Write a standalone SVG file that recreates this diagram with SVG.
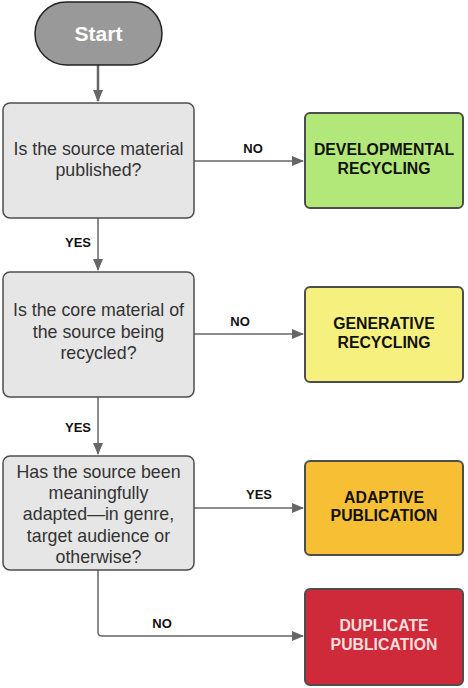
<svg xmlns="http://www.w3.org/2000/svg" width="468" height="688" viewBox="0 0 468 688">
<style>
.q{fill:#e6e6e6;stroke:#4d4d4d;stroke-width:1.5}
.r{stroke:#4d4d4d;stroke-width:2}
.qt{font-family:"Liberation Sans",Arial,sans-serif;font-size:17.8px;fill:#333;text-anchor:middle;dominant-baseline:central}
.rt{font-family:"Liberation Sans",Arial,sans-serif;font-size:15.8px;font-weight:bold;fill:#111;text-anchor:middle;dominant-baseline:central}
.lb{font-family:"Liberation Sans",Arial,sans-serif;font-size:13px;font-weight:bold;fill:#111;text-anchor:middle;dominant-baseline:central}
.c{fill:none;stroke:#666;stroke-width:1.5}
</style>
<defs>
<marker id="ah" markerWidth="12" markerHeight="10" refX="11" refY="5" orient="auto" markerUnits="userSpaceOnUse">
<path d="M0,0 L12,5 L0,10 Z" fill="#666"/>
</marker>
</defs>
<rect width="468" height="688" fill="#fff"/>
<g id="connectors">
<line class="c" x1="98" y1="65" x2="98" y2="101" marker-end="url(#ah)" style="stroke-width:2.5"/>
<line class="c" x1="194" y1="161" x2="303" y2="161" marker-end="url(#ah)"/>
<line class="c" x1="98" y1="218" x2="98" y2="270" marker-end="url(#ah)"/>
<line class="c" x1="194" y1="334" x2="303" y2="334" marker-end="url(#ah)"/>
<line class="c" x1="98" y1="397" x2="98" y2="454" marker-end="url(#ah)"/>
<line class="c" x1="194" y1="508" x2="303" y2="508" marker-end="url(#ah)"/>
<path class="c" d="M98,570 L98,632 Q98,636 102,636 L303,636" marker-end="url(#ah)"/>
<text class="lb" x="253" y="148">NO</text>
<text class="lb" x="78" y="242">YES</text>
<text class="lb" x="240" y="321">NO</text>
<text class="lb" x="78" y="427">YES</text>
<text class="lb" x="259" y="494">YES</text>
<text class="lb" x="162" y="623">NO</text>
</g>
<g id="start">
<rect x="35" y="2" width="127" height="63" rx="31.5" fill="#999" stroke="#222" stroke-width="1.5"/>
<text x="98.5" y="33" font-family="Liberation Sans,Arial,sans-serif" font-size="21" font-weight="bold" fill="#fff" text-anchor="middle" dominant-baseline="central">Start</text>
</g>
<g id="q1">
<rect class="q" x="3" y="103" width="191" height="115" rx="7"/>
<text class="qt" x="98.5" y="149">Is the source material</text>
<text class="qt" x="98.5" y="170">published?</text>
</g>
<g id="developmental">
<rect class="r" x="305" y="113" width="158" height="95" rx="5" fill="#b2e879"/>
<text class="rt" x="384" y="149">DEVELOPMENTAL</text>
<text class="rt" x="384" y="168">RECYCLING</text>
</g>
<g id="q2">
<rect class="q" x="3" y="272" width="191" height="125" rx="7"/>
<text class="qt" x="98.5" y="310">Is the core material of</text>
<text class="qt" x="98.5" y="332">the source being</text>
<text class="qt" x="98.5" y="353">recycled?</text>
</g>
<g id="generative">
<rect class="r" x="305" y="287" width="158" height="95" rx="5" fill="#f6f17f"/>
<text class="rt" x="384" y="323">GENERATIVE</text>
<text class="rt" x="384" y="342">RECYCLING</text>
</g>
<g id="q3">
<rect class="q" x="3" y="456" width="191" height="114" rx="7"/>
<text class="qt" x="98.5" y="472">Has the source been</text>
<text class="qt" x="98.5" y="493">meaningfully</text>
<text class="qt" x="98.5" y="514">adapted—in genre,</text>
<text class="qt" x="98.5" y="536">target audience or</text>
<text class="qt" x="98.5" y="557">otherwise?</text>
</g>
<g id="adaptive">
<rect class="r" x="305" y="461" width="158" height="94" rx="5" fill="#f7c034"/>
<text class="rt" x="384" y="497">ADAPTIVE</text>
<text class="rt" x="384" y="515">PUBLICATION</text>
</g>
<g id="duplicate">
<rect class="r" x="305" y="589" width="158" height="96" rx="5" fill="#cf2a3a"/>
<text class="rt" x="384" y="625" style="fill:#f6dede">DUPLICATE</text>
<text class="rt" x="384" y="644" style="fill:#f6dede">PUBLICATION</text>
</g>
</svg>
